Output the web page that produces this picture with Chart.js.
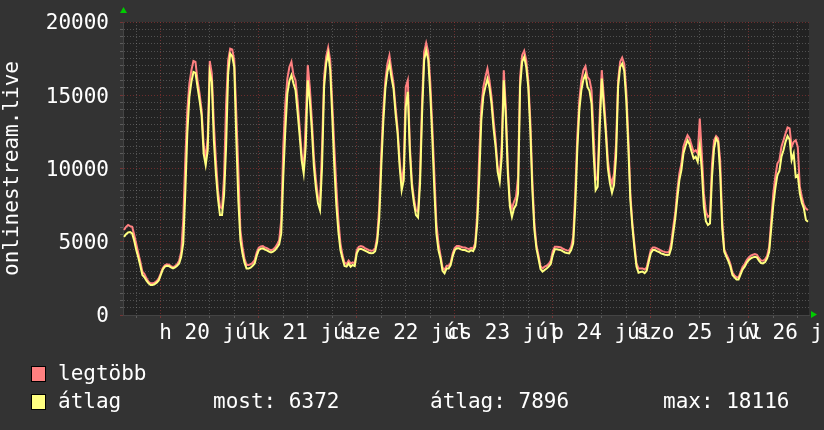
<!DOCTYPE html>
<html><head><meta charset="utf-8">
<script src="https://cdn.jsdelivr.net/npm/chart.js@4"></script>
<style>html,body{margin:0;padding:0;background:#333333;}canvas{display:block}</style>
</head><body>
<canvas id="c" width="824" height="430"></canvas>
<script>
// time in hours relative to Mon 20 Jul 00:00; one value every half hour from startHour
const startHour = -9;
const stepHours = 0.5;
const dayLabels = ['h 20 júl','k 21 júl','sze 22 júl','cs 23 júl','p 24 júl','szo 25 júl','v 26 júl'];
const yTitle = 'onlinestream.live';
const legendNames = ['legtöbb', 'átlag'];
const legendStats = ['most: 6372', 'átlag: 7896', 'max: 18116'];

const maxValues = [
 5800,6020,6140,6070,6020,5460,4840,4210,3640,2960,2800,2500,2270,2160,2160,2210,2320,2500,
 2840,3210,3390,3460,3430,3340,3270,3340,3460,3710,4320,6480,10570,13980,15800,16710,17340,17280,16020,15120,
 13980,11710,10570,12160,17340,16480,13070,10570,8520,7390,7270,9430,14430,17390,18180,18120,17390,13750,9890,5800,
 4660,3860,3410,3410,3460,3570,3750,4270,
 4590,4680,4710,4610,4570,4480,4430,4480,4610,4820,5110,6480,11480,14430,16140,16930,17280,16370,16020,14660,
 12840,11020,9890,13300,17050,15570,13300,10800,9210,8070,7730,11480,16250,17620,18250,17390,14430,11480,8750,6480,
 4890,4090,3570,3480,3710,3520,3590,3520,
 4430,4660,4710,4660,4570,4500,4430,4390,4410,4570,5340,7390,11020,13980,16020,17160,17730,16710,15800,14210,
 12730,10570,8980,10120,15570,16020,11590,9090,7960,7160,7050,9660,14660,17960,18570,17960,15910,12840,9660,6250,
 4890,4090,3250,3070,3360,3360,3570,4210,
 4590,4710,4710,4660,4610,4610,4550,4500,4590,4550,4890,6930,11020,14210,15570,16250,16820,16020,14890,13300,
 11930,10120,9430,11710,16710,14210,10120,7730,7270,7730,8070,9430,16250,17730,18030,17390,16020,13300,9210,6250,
 4770,4090,3340,3180,3300,3360,3480,3710,
 4360,4660,4660,4640,4610,4520,4460,4410,4390,4660,5340,8300,12160,14660,16020,16710,16980,16250,16070,15340,
 12390,9210,9430,13750,16710,14890,12840,10570,9430,8980,9660,11710,16020,17280,17570,17160,15340,12160,8300,6250,
 4840,3520,3180,3180,3180,3110,3250,3860,
 4430,4610,4610,4550,4480,4390,4340,4300,4270,4320,4890,6020,6980,8520,9660,10340,11480,11930,12270,12050,
 11590,11140,11250,11020,13410,11020,8300,7050,6700,6820,10340,11930,12210,12050,10570,6480,4480,4160,3860,3480,
 2890,2700,2570,2570,2930,3300,3480,3750,
 3930,4050,4110,4160,4110,3890,3730,3700,3800,4050,4660,6480,8300,9430,10340,10570,11480,11930,12390,12800,
 12730,11480,11820,11930,11480,8750,8070,7500,7270,7160
];
const avgValues = [
 5340,5520,5640,5660,5570,5070,4430,3930,3340,2730,2570,2340,2160,2050,2050,2110,2210,2360,
 2730,3110,3300,3360,3340,3250,3180,3250,3360,3520,3980,4890,8300,12390,14890,15910,16590,16530,15570,14660,
 13640,11020,10230,11250,16590,15910,11930,9660,7960,6820,6820,8180,11480,16480,17840,17660,16930,12000,7800,5110,
 4210,3570,3180,3180,3230,3360,3520,4050,
 4430,4520,4550,4460,4410,4320,4270,4320,4430,4610,4820,5570,9430,12620,15120,15980,16370,15800,15340,13870,
 12270,10570,9660,11500,16020,14660,12620,10120,8640,7620,7160,10120,15570,17160,17840,16710,13520,10120,7500,5680,
 4430,3860,3340,3300,3520,3300,3410,3340,
 4210,4480,4520,4460,4390,4320,4250,4210,4230,4360,5000,6590,10120,13180,15460,16590,17160,16210,15460,13750,
 12390,10120,8520,9210,14210,15230,11140,8750,7620,6820,6660,8980,13750,17390,18070,17430,15120,12050,8520,5570,
 4430,3860,3020,2840,3180,3180,3410,4020,
 4430,4550,4550,4480,4430,4430,4360,4320,4430,4360,4660,6250,9430,13300,14930,15570,16120,15530,14430,12730,
 11480,9770,9090,10800,16020,13520,9660,7390,6700,7270,7500,8300,15570,17280,17620,16930,15570,12620,8520,5800,
 4550,3860,3140,2960,3070,3180,3300,3480,
 4090,4480,4480,4460,4430,4340,4270,4230,4210,4430,4890,7390,11250,13980,15340,16070,16430,15570,15300,14430,
 11020,8520,8750,12840,16140,14210,12390,10000,8980,8340,8870,10800,15570,16930,17160,16660,14660,11480,7840,6020,
 4550,3300,2890,2930,2960,2860,3020,3640,
 4210,4430,4430,4360,4300,4210,4160,4110,4090,4110,4550,5570,6590,7960,9210,9890,11020,11520,11930,11660,
 11140,10680,10800,10460,11590,9890,7390,6410,6140,6250,9430,11370,12050,11820,9660,5910,4320,3980,3680,3300,
 2730,2570,2430,2430,2770,3110,3300,3570,
 3750,3860,3930,3980,3930,3710,3550,3520,3610,3860,4320,5910,7500,8640,9550,9840,10800,11250,11820,12210,
 11980,10570,11020,9430,9550,8300,7660,7270,6480,6370
];

const FONT = "'DejaVu Sans Mono', monospace";
const TEXT = '#ffffff';
const MINOR = 'rgba(140,140,140,0.45)';
const MAJOR = 'rgba(170,55,55,0.55)';

const toPts = arr => arr.map((v, i) => ({x: startHour + i * stepHours, y: v}));

const decor = {
  id: 'decor',
  beforeDraw(chart) {
    const {ctx, chartArea: a} = chart;
    ctx.save();
    ctx.fillStyle = '#333333';
    ctx.fillRect(0, 0, chart.width, chart.height);
    ctx.fillStyle = '#222222';
    ctx.fillRect(a.left, a.top, a.right - a.left, a.bottom - a.top);
    ctx.restore();
  },
  afterDraw(chart) {
    const {ctx, chartArea: a} = chart;
    ctx.save();
    // axis arrows
    ctx.fillStyle = '#00cc00';
    ctx.beginPath();
    ctx.moveTo(a.left - 3, 13); ctx.lineTo(a.left + 4, 13); ctx.lineTo(a.left + 0.5, 7); ctx.closePath(); ctx.fill();
    ctx.beginPath();
    ctx.moveTo(a.right + 2, a.bottom - 4); ctx.lineTo(a.right + 2, a.bottom + 3); ctx.lineTo(a.right + 8, a.bottom - 0.5); ctx.closePath(); ctx.fill();
    // legend
    const colors = ['#ff8080', '#ffff80'];
    const rows = [374, 402];
    ctx.font = '21px ' + FONT;
    ctx.textBaseline = 'middle';
    rows.forEach((y, i) => {
      ctx.fillStyle = colors[i];
      ctx.fillRect(31, y - 8, 15, 16);
      ctx.strokeStyle = '#000';
      ctx.lineWidth = 1;
      ctx.strokeRect(31.5, y - 7.5, 14, 15);
      ctx.fillStyle = TEXT;
      ctx.fillText(legendNames[i], 58, y + 1);
    });
    const statX = [213, 430, 663];
    legendStats.forEach((s, i) => ctx.fillText(s, statX[i], rows[1] + 1));
    ctx.restore();
  }
};

new Chart(document.getElementById('c'), {
  type: 'line',
  data: {
    datasets: [
      {label: legendNames[1], data: toPts(avgValues), borderColor: '#ffff80', borderWidth: 2, pointRadius: 0, tension: 0, order: 1},
      {label: legendNames[0], data: toPts(maxValues), borderColor: '#ff8080', borderWidth: 2, pointRadius: 0, tension: 0, order: 2}
    ]
  },
  options: {
    responsive: false,
    animation: false,
    devicePixelRatio: 1,
    layout: {padding: {left: 0, right: 15, top: 22, bottom: 0}},
    plugins: {legend: {display: false}, tooltip: {enabled: false}},
    scales: {
      x: {
        type: 'linear', min: -9.25, max: 158.75,
        afterBuildTicks(s) { const t = []; for (let h = -6; h <= 156; h += 6) t.push({value: h}); s.ticks = t; },
        afterFit(s) { s.height = 115; s.paddingLeft = 0; s.paddingRight = 0; },
        grid: {
          color: c => (c.tick && c.tick.value % 24 === 0) ? MAJOR : MINOR,
          tickColor: c => (c.tick && c.tick.value % 24 === 0) ? MAJOR : MINOR,
          lineWidth: 1, drawTicks: true, tickLength: 3
        },
        border: {display: true, color: '#444444', dash: [1, 2]},
        ticks: {
          autoSkip: false, maxRotation: 0, minRotation: 0, padding: 3,
          color: TEXT, font: {family: FONT, size: 21},
          callback: v => ((v - 12) % 24 === 0 ? dayLabels[(v - 12) / 24] : '')
        }
      },
      y: {
        min: 0, max: 20000,
        afterBuildTicks(s) { const t = []; for (let v = 0; v <= 20000; v += 500) t.push({value: v}); s.ticks = t; },
        afterFit(s) { s.width = 123; s.paddingTop = 0; s.paddingBottom = 0; },
        grid: {
          color: c => (c.tick && c.tick.value % 5000 === 0) ? MAJOR : MINOR,
          tickColor: c => (c.tick && c.tick.value % 5000 === 0) ? MAJOR : MINOR,
          lineWidth: 1, drawTicks: true, tickLength: 3
        },
        border: {display: true, color: '#444444', dash: [1, 2]},
        title: {display: true, text: yTitle, color: TEXT, font: {family: FONT, size: 21}, padding: {top: 0, bottom: 0}},
        ticks: {
          autoSkip: false, padding: 11, labelOffset: 2, color: TEXT, font: {family: FONT, size: 21},
          callback: v => (v % 5000 === 0 ? String(v) : '')
        }
      }
    }
  },
  plugins: [decor]
});
</script>
</body></html>
